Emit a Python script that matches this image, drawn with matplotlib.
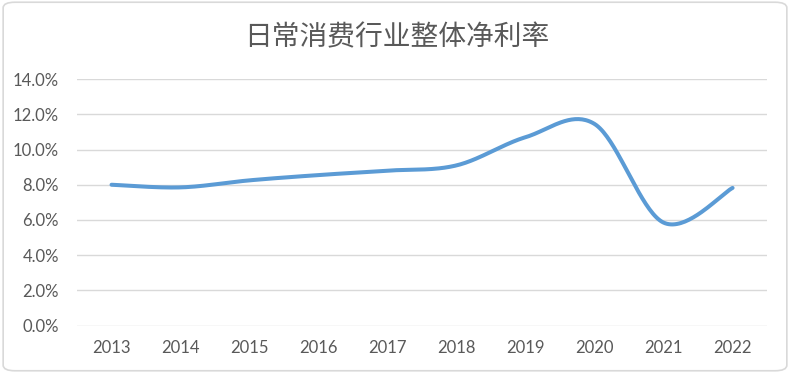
import numpy as np
import matplotlib
matplotlib.use("Agg")
import matplotlib.pyplot as plt
from matplotlib.patches import FancyBboxPatch
from matplotlib.ticker import FuncFormatter

years = ["2013", "2014", "2015", "2016", "2017", "2018", "2019", "2020", "2021", "2022"]
net_margin = [8.0, 7.85, 8.25, 8.55, 8.8, 9.1, 10.7, 11.45, 5.85, 7.82]
title = "日常消费行业整体净利率"
y_ticks = [0, 2, 4, 6, 8, 10, 12, 14]


def excel_smooth(x, y, n=40):
    x = np.asarray(x, float)
    y = np.asarray(y, float)
    xs, ys = [], []
    m = len(x)
    for i in range(m - 1):
        p0 = np.array([x[max(i - 1, 0)], y[max(i - 1, 0)]])
        p1 = np.array([x[i], y[i]])
        p2 = np.array([x[i + 1], y[i + 1]])
        p3 = np.array([x[min(i + 2, m - 1)], y[min(i + 2, m - 1)]])
        c1 = p1 + (p2 - p0) / 6.0
        c2 = p2 - (p3 - p1) / 6.0
        t = np.linspace(0, 1, n)[:, None]
        pts = ((1 - t) ** 3) * p1 + 3 * ((1 - t) ** 2) * t * c1 + 3 * (1 - t) * t ** 2 * c2 + t ** 3 * p2
        xs.extend(pts[:, 0])
        ys.extend(pts[:, 1])
    return np.array(xs), np.array(ys)


fig = plt.figure(figsize=(7.9, 3.73), dpi=100)
border = FancyBboxPatch((0.004, 0.006), 0.992, 0.988, boxstyle="round,pad=0,rounding_size=0.015",
                        transform=fig.transFigure, facecolor="white", edgecolor="#d9d9d9", lw=1.2, zorder=-5)
fig.patches.append(border)
ax = fig.add_axes([0.0975, 0.127, 0.8735, 0.661])
ax.set_zorder(2)
ax.set_facecolor("none")

xi = np.arange(len(years))
sx, sy = excel_smooth(xi, net_margin)
ax.plot(sx, sy, color="#5B9BD5", lw=2.9, solid_capstyle="round")

ax.set_xlim(-0.5, len(years) - 0.5)
ax.set_ylim(0, 14)
ax.set_yticks(y_ticks)
ax.yaxis.set_major_formatter(FuncFormatter(lambda v, p: f"{v:.1f}%"))
ax.set_xticks(xi)
ax.set_xticklabels(years)
ax.grid(axis="y", color="#d9d9d9", lw=1)
ax.set_axisbelow(True)
for s in ax.spines.values():
    s.set_visible(False)
ax.tick_params(length=0, labelsize=12, labelcolor="#595959")
ax.tick_params(axis="y", pad=13)
ax.tick_params(axis="x", pad=10)
for lab in ax.get_xticklabels() + ax.get_yticklabels():
    lab.set_family(["Lato", "DejaVu Sans"])

fig.text(0.502, 0.9, title, ha="center", va="center", fontsize=20, color="#595959",
         family=["Noto Sans CJK SC", "DejaVu Sans"], fontweight="light")

fig.savefig("out.png", dpi=100)
